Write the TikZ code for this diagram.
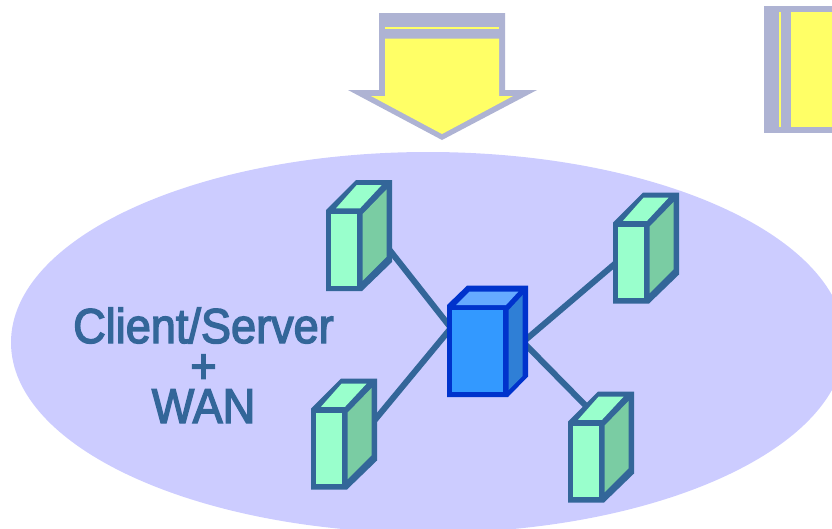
\documentclass[tikz,border=0pt]{standalone}
\usepackage{fontspec}
\setmainfont{Liberation Sans}
\newfontfamily\lblfont{Liberation Sans}[FakeBold=3]
\definecolor{lav}{HTML}{CCCCFF}
\definecolor{steel}{HTML}{336699}
\definecolor{grayb}{HTML}{AEB3D3}
\definecolor{yel}{HTML}{FFFF66}
\definecolor{mint}{HTML}{99FFCC}
\definecolor{mintd}{HTML}{7ACCA3}
\definecolor{hubf}{HTML}{3399FF}
\definecolor{hubt}{HTML}{66AAFF}
\definecolor{hubs}{HTML}{2F7FD6}
\definecolor{hube}{HTML}{0033CC}
\tikzset{
  band/.style={fill=grayb,draw=none},
  ylw/.style={fill=yel,draw=none},
  link/.style={draw=steel,line width=6pt},
  lbl/.style={text=steel,inner sep=0pt,align=center,font=\fontsize{49}{40}\selectfont\lblfont,xscale=0.92},
}
% small server: #1 name, #2 outer left x, #3 outer bottom y
\newcommand{\srv}[3]{%
  \begin{scope}[shift={(#2,#3)}]
    \coordinate (#1) at (0,0);
    \fill[steel] (0,0) -- (36,0) -- (66,-29) -- (66,-111) -- (30,-111) -- (0,-81) -- cycle;
    \fill[mint] (5.3,-5.3) rectangle (31.3,-77);
    \fill[mint] (10,-82.7) -- (34,-82.7) -- (55.7,-106) -- (30.7,-106) -- cycle;
    \fill[mintd] (36.7,-77) -- (60.7,-101.7) -- (60.7,-34.3) -- (36.7,-10.3) -- cycle;
  \end{scope}
}
\begin{document}
\begin{tikzpicture}[x=1pt,y=-1pt]
\useasboundingbox (0,0) rectangle (832,528);
\clip (0,0) rectangle (832,528);
% ellipse
\fill[lav] (428,342.5) ellipse [x radius=417,y radius=190.5];
% down arrow
\fill[band] (379,13) -- (505,13) -- (505,90) -- (537,90) -- (442,140) -- (348,90) -- (379,90) -- cycle;
\fill[ylw] (385,38.5) -- (499,38.5) -- (499,96) -- (513,96) -- (442,134) -- (371,96) -- (385,96) -- cycle;
\fill[ylw] (385,27) rectangle (499,29);
% right arrow fragment
\fill[band] (764,6) rectangle (832,132.5);
\fill[ylw] (791,12) rectangle (832,126.5);
\fill[ylw] (778.5,12) rectangle (781,126.5);
% connector ends
\coordinate (hubL) at (451,328);
\coordinate (hubR) at (523,342);
\coordinate (cA) at (388,248);
\coordinate (cB) at (374,421);
\coordinate (cC) at (617,262);
\coordinate (cD) at (589,409);
\draw[link] (cA) -- (hubL);
\draw[link] (cB) -- (hubL);
\draw[link] (cC) -- (hubR);
\draw[link] (cD) -- (hubR);
% servers
\srv{sA}{326}{291}
\srv{sB}{613}{303.5}
\srv{sC}{311}{489.5}
\srv{sD}{568}{502.5}
% hub
\coordinate (hub) at (447,397);
\fill[hube] (447,397) -- (508,397) -- (528,376.5) -- (528,285.7) -- (467,285.7) -- (447,305) -- cycle;
\fill[hubf] (452,310) rectangle (503.3,391.7);
\fill[hubt] (456,305) -- (506,305) -- (518.3,291.7) -- (469.3,291.7) -- cycle;
\fill[hubs] (508.7,310) -- (522.7,295) -- (522.7,376) -- (508.7,390) -- cycle;
% label
\node[lbl,anchor=base] (t1) at (203.5,423) {Client/Server\\+\\WAN};
\end{tikzpicture}
\end{document}
